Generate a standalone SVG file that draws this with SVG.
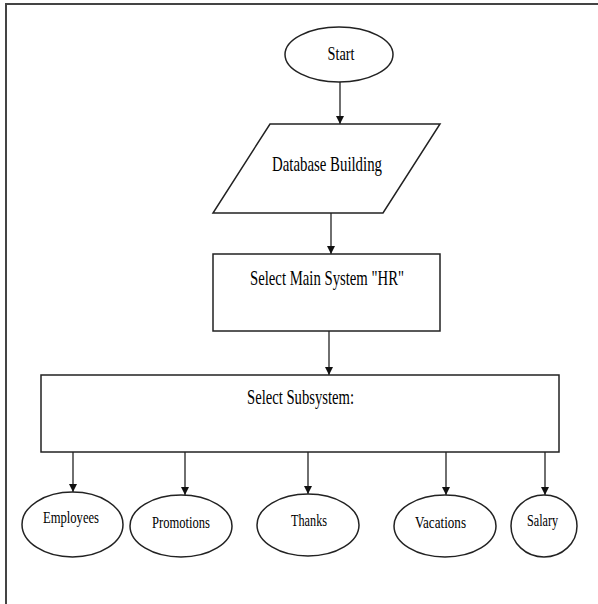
<svg xmlns="http://www.w3.org/2000/svg" width="598" height="604" viewBox="0 0 598 604">
<style>
.shape{fill:#fff;stroke:#222;stroke-width:1.5}
.edge{fill:none;stroke:#222;stroke-width:1.3;marker-end:url(#arr)}
.lbl{font-family:"Liberation Serif","Times New Roman",serif;fill:#000;text-anchor:middle;dominant-baseline:central}
.frame{stroke:#444;stroke-width:2;fill:none}
</style>
<defs>
<marker id="arr" viewBox="0 0 10 10" refX="10" refY="5" markerWidth="9" markerHeight="8" markerUnits="userSpaceOnUse" orient="auto">
<path d="M0,0 L10,5 L0,10 z" fill="#111"/>
</marker>
</defs>
<rect width="598" height="604" fill="#fff"/>
<path class="frame" d="M6,604 L6,4 L598,4"/>
<g id="connectors">
<line class="edge" x1="340" y1="82" x2="340" y2="124"/>
<line class="edge" x1="331" y1="213" x2="331" y2="254"/>
<line class="edge" x1="329" y1="331" x2="329" y2="375"/>
<line class="edge" x1="73" y1="452" x2="73" y2="492"/>
<line class="edge" x1="185" y1="452" x2="185" y2="495"/>
<line class="edge" x1="308" y1="452" x2="308" y2="494"/>
<line class="edge" x1="446" y1="452" x2="446" y2="495"/>
<line class="edge" x1="545" y1="452" x2="545" y2="495"/>
</g>
<g id="start">
<ellipse class="shape" cx="339" cy="54.5" rx="54" ry="27.5"/>
<text class="lbl" x="341" y="53" font-size="19" textLength="27" lengthAdjust="spacingAndGlyphs">Start</text>
</g>
<g id="database">
<polygon class="shape" points="270,124 440,124 383,213 213,213"/>
<text class="lbl" x="327" y="163" font-size="22" textLength="110" lengthAdjust="spacingAndGlyphs">Database Building</text>
</g>
<g id="mainsystem">
<rect class="shape" x="213" y="254" width="227" height="77"/>
<text class="lbl" x="327" y="278" font-size="21" textLength="154" lengthAdjust="spacingAndGlyphs">Select Main System "HR"</text>
</g>
<g id="subsystem">
<rect class="shape" x="41" y="375" width="518" height="77"/>
<text class="lbl" x="300.5" y="397" font-size="21" textLength="107" lengthAdjust="spacingAndGlyphs">Select Subsystem:</text>
</g>
<g id="employees">
<ellipse class="shape" cx="72.5" cy="524.5" rx="50.5" ry="32.5"/>
<text class="lbl" x="71" y="517" font-size="17" textLength="56" lengthAdjust="spacingAndGlyphs">Employees</text>
</g>
<g id="promotions">
<ellipse class="shape" cx="181" cy="526" rx="51" ry="31"/>
<text class="lbl" x="181" y="522" font-size="17" textLength="58" lengthAdjust="spacingAndGlyphs">Promotions</text>
</g>
<g id="thanks">
<ellipse class="shape" cx="308" cy="525" rx="51" ry="31"/>
<text class="lbl" x="309" y="520" font-size="17" textLength="36" lengthAdjust="spacingAndGlyphs">Thanks</text>
</g>
<g id="vacations">
<ellipse class="shape" cx="445" cy="526" rx="51" ry="31"/>
<text class="lbl" x="440.5" y="522" font-size="17" textLength="51" lengthAdjust="spacingAndGlyphs">Vacations</text>
</g>
<g id="salary">
<ellipse class="shape" cx="544" cy="526" rx="33" ry="31"/>
<text class="lbl" x="542.5" y="520" font-size="17" textLength="31" lengthAdjust="spacingAndGlyphs">Salary</text>
</g>
</svg>
